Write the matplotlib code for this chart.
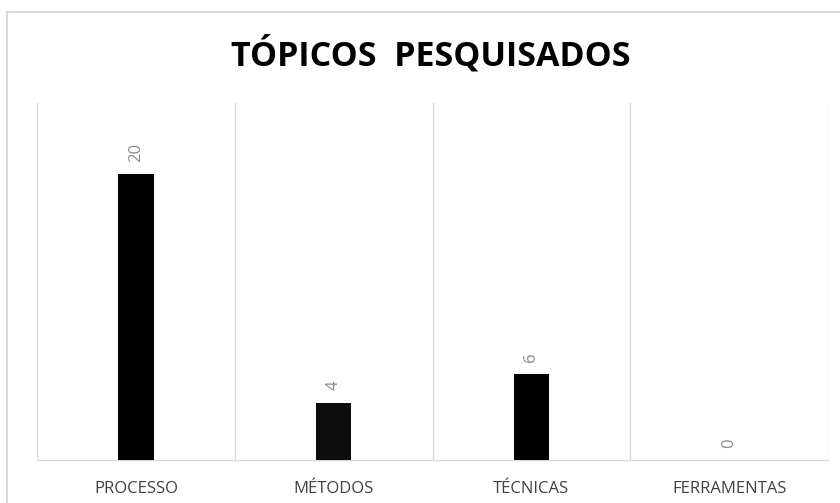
import matplotlib.pyplot as plt
from matplotlib.lines import Line2D

categorias = ["PROCESSO", "MÉTODOS", "TÉCNICAS", "FERRAMENTAS"]
valores = [20, 4, 6, 0]
cores = ["#000000", "#0d0d0d", "#000000", "#000000"]
titulo = "TÓPICOS  PESQUISADOS"

plt.rcParams['font.family'] = ['Open Sans', 'DejaVu Sans']

fig = plt.figure(figsize=(8.4, 5.03), dpi=100)
ax = fig.add_axes([37 / 840, 1 - 460 / 503, 791 / 840, 357 / 503])

x = list(range(len(categorias)))
barras = ax.bar(x, valores, width=0.18, color=cores, zorder=3)

for b, v in zip(barras, valores):
    ax.annotate(str(v), (b.get_x() + b.get_width() / 2, v),
                xytext=(0, 9), textcoords="offset points",
                ha="center", va="bottom", rotation=90,
                fontsize=12, color="#8c8c8c")

ax.set_xlim(-0.5, len(categorias) - 0.5)
ax.set_ylim(0, 25)
ax.set_xticks(x)
ax.set_xticklabels(categorias, fontsize=12, color="#404040")
ax.set_xticks([i - 0.5 for i in range(len(categorias) + 1)], minor=True)
ax.tick_params(axis="x", which="both", length=0, pad=15)
ax.set_yticks([])
ax.grid(True, axis="x", which="minor", color="#d9d9d9", linewidth=1)
for s in ["top", "left", "right"]:
    ax.spines[s].set_visible(False)
ax.spines["bottom"].set_color("#d9d9d9")
ax.spines["bottom"].set_linewidth(1)

fig.text(431 / 840, 1 - 55 / 503, titulo, ha="center", va="center",
         fontsize=24.5, fontweight="bold", color="#000000")

# moldura do gráfico
fig.add_artist(Line2D([7 / 840, 1], [1 - 12 / 503, 1 - 12 / 503],
                      color="#d9d9d9", linewidth=1.5, transform=fig.transFigure))
fig.add_artist(Line2D([7 / 840, 7 / 840], [0, 1 - 12 / 503],
                      color="#d9d9d9", linewidth=1.5, transform=fig.transFigure))

fig.savefig("out.png", dpi=100)
